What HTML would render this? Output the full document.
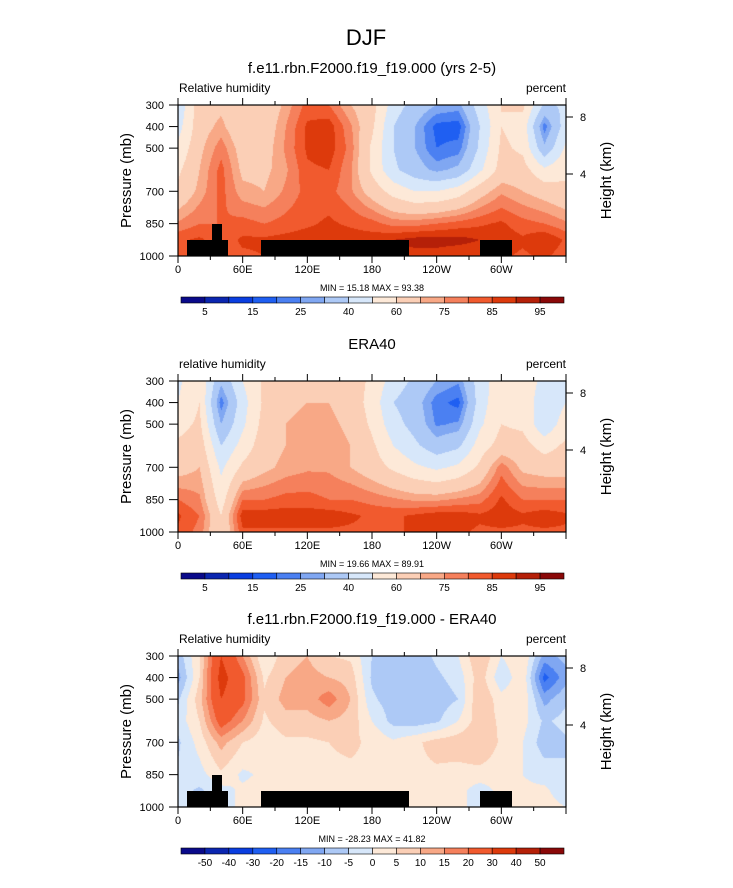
<!DOCTYPE html>
<html><head><meta charset="utf-8">
<style>
html,body{margin:0;padding:0;background:#fff;}
#root{position:relative;width:733px;height:888px;overflow:hidden;font-family:"Liberation Sans",sans-serif;}
canvas{position:absolute;}
svg{position:absolute;left:0;top:0;}
</style></head>
<body>
<div id="root">
<canvas id="c0" width="388" height="151" style="left:178px;top:105px"></canvas>
<canvas id="c1" width="388" height="151" style="left:178px;top:381px"></canvas>
<canvas id="c2" width="388" height="151" style="left:178px;top:656px"></canvas>
<svg id="ov" width="733" height="888"></svg>
</div>
<script>
const lons=[0,20,40,60,80,100,120,140,160,180,200,220,240,260,280,300,320,340,360];
const pLevels=[300,400,500,600,700,850,925,1000];
const modelRH=[
[42,66,68,62,62,72,82,80,70,64,45,36,30,28,45,60,62,38,42],
[46,66,72,62,64,75,86,88,76,62,40,30,18,17,40,60,56,22,46],
[52,68,78,66,66,76,86,88,78,58,40,30,20,22,42,62,58,32,52],
[58,70,82,68,68,74,84,85,76,58,42,34,28,32,48,64,64,52,58],
[62,72,82,72,70,76,82,82,76,66,56,50,50,55,66,74,70,66,62],
[76,80,80,82,80,82,84,86,84,82,78,78,80,82,84,86,82,80,76],
[84,86,82,86,86,87,88,88,88,88,90,92,92,92,90,88,86,90,84],
[82,84,82,84,85,86,86,86,86,86,88,88,88,86,86,86,84,86,82]];
const eraRH=[
[48,58,32,50,62,68,68,68,65,58,45,38,30,26,45,56,60,45,48],
[50,60,22,46,62,68,70,70,66,56,40,34,22,18,45,58,60,40,50],
[56,62,30,48,64,70,72,72,68,58,44,36,24,26,48,60,58,42,56],
[62,66,40,54,66,70,74,74,70,62,50,42,34,38,55,64,64,56,62],
[66,70,48,62,68,72,74,74,70,65,58,52,48,52,62,78,68,66,66],
[80,76,55,80,80,82,82,80,80,78,76,74,74,76,78,86,80,80,80],
[86,80,60,88,88,88,88,88,86,84,84,86,88,88,86,88,86,88,86],
[84,78,60,84,84,84,84,84,84,84,84,86,86,86,84,84,84,84,84]];
const diffRH=[
[-8,5,30,15,0,8,10,5,4,-5,-8,-8,-4,0,10,0,5,-12,-8],
[-12,5,34,22,4,10,12,10,8,-6,-8,-8,-6,-3,8,-4,4,-22,-12],
[-6,8,30,22,6,12,12,18,10,-4,-8,-8,-8,-5,10,2,4,-12,-6],
[-3,5,24,15,4,8,8,10,8,0,-7,-8,-6,0,8,4,2,-6,-3],
[-6,2,12,5,2,4,4,5,6,4,1,4,7,8,10,4,0,-8,-6],
[-4,-2,4,-1,1,2,3,4,4,4,4,4,4,3,3,2,0,-2,-4],
[-3,-6,-2,1,2,3,3,3,3,3,3,3,2,2,-3,2,1,1,-3],
[0,0,0,0,2,2,3,3,2,2,2,0,0,0,0,0,2,2,0]];
const rhLevels=[5,10,15,20,25,30,40,50,60,70,75,80,85,90,95];
const rhLabels=["5","","15","","25","","40","","60","","75","","85","","95"];
const diffLevels=[-50,-40,-30,-20,-15,-10,-5,0,5,10,15,20,30,40,50];
const diffLabels=["-50","-40","-30","-20","-15","-10","-5","0","5","10","15","20","30","40","50"];
const xTickLabels=["0","60E","120E","180","120W","60W"];
const xTickLons=[0,60,120,180,240,300];
const pTicks=[300,400,500,700,850,1000];
const colors=["#0a0a8a","#0b26b0","#0a3ee0","#1f5ff2","#4b80f2","#80a7f2","#adc9f6","#d7e7fa","#fde9d8","#fbcfb6","#f8a886","#f5805c","#f15a2e","#dd3a0c","#b52008","#8a0808"];

const W=388,H=151;
function xOf(lon){return lon*W/360;}
function yOf(p){return (p-300)/700*H;}
function interp(grid,lon,p){
  let i=Math.min(lons.length-2,Math.floor(lon/20));let fx=(lon-lons[i])/(lons[i+1]-lons[i]);
  let j=0;while(j<pLevels.length-2&&p>pLevels[j+1])j++;
  let fy=(p-pLevels[j])/(pLevels[j+1]-pLevels[j]);
  const a=grid[j][i],b=grid[j][i+1],c=grid[j+1][i],d=grid[j+1][i+1];
  return (a*(1-fx)+b*fx)*(1-fy)+(c*(1-fx)+d*fx)*fy;
}
function hex(h){return [parseInt(h.substr(1,2),16),parseInt(h.substr(3,2),16),parseInt(h.substr(5,2),16)];}
const rgb=colors.map(hex);
function draw(id,grid,levels){
  const ctx=document.getElementById(id).getContext('2d');
  const img=ctx.createImageData(W,H);
  for(let y=0;y<H;y++){const p=300+(y+0.5)/H*700;
    for(let x=0;x<W;x++){const lon=(x+0.5)/W*360;
      const v=interp(grid,lon,p);let k=0;while(k<levels.length&&v>=levels[k])k++;
      const c=rgb[k];const o=(y*W+x)*4;img.data[o]=c[0];img.data[o+1]=c[1];img.data[o+2]=c[2];img.data[o+3]=255;}}
  ctx.putImageData(img,0,0);
}
draw('c0',modelRH,rhLevels);draw('c1',eraRH,rhLevels);draw('c2',diffRH,diffLevels);

const NS="http://www.w3.org/2000/svg";const ov=document.getElementById('ov');
function el(tag,attrs,text){const e=document.createElementNS(NS,tag);for(const k in attrs)e.setAttribute(k,attrs[k]);if(text!==undefined)e.textContent=text;ov.appendChild(e);return e;}
function txt(x,y,s,size,anchor,name){const t=el('text',{x:x,y:y,'font-size':size,'text-anchor':anchor||'middle','font-family':'Liberation Sans, sans-serif',fill:'#000'},s);

return t;}

txt(366,45,"DJF",22,'middle','figure-title');
const panels=[
 {top:105,sub:"f.e11.rbn.F2000.f19_f19.000 (yrs 2-5)",left:"Relative humidity",topo:true,mm:"MIN =  15.18  MAX =  93.38",levels:rhLabels},
 {top:381,sub:"ERA40",left:"relative humidity",topo:false,mm:"MIN =  19.66  MAX =  89.91",levels:rhLabels},
 {top:656,sub:"f.e11.rbn.F2000.f19_f19.000 - ERA40",left:"Relative humidity",topo:true,mm:"MIN = -28.23  MAX =  41.82",levels:diffLabels}];
const L=178,R=566;
panels.forEach((pn,pi)=>{
  const T=pn.top,B=T+H;
  txt(372,T-32,pn.sub,15,'middle','panel-subtitle');
  txt(179,T-13,pn.left,12,'start','variable-label');
  txt(566,T-13,"percent",12,'end','units-label');
  if(pn.topo){
    [[187,240,41,16],[212,224,10,16],[261,240,148,16],[480,240,32,16]].forEach(r=>{
      const rc=el('rect',{x:r[0],y:T+(r[1]-105),width:r[2],height:r[3],fill:'#000'});
      
      
    });
  }
  const fr=el('rect',{x:L,y:T,width:W,height:H,fill:'none',stroke:'#000','stroke-width':1.2});
  
  
  for(let lon=0;lon<=360;lon+=30){const x=L+xOf(lon);const len=(lon%60===0)?7:4;
    el('line',{x1:x,y1:T,x2:x,y2:T-len,stroke:'#000'});el('line',{x1:x,y1:B,x2:x,y2:B+len,stroke:'#000'});}
  xTickLons.forEach((lon,i)=>txt(L+xOf(lon),B+17,xTickLabels[i],11,'middle','x-tick-label'));
  pTicks.forEach(p=>{const y=T+yOf(p);el('line',{x1:L,y1:y,x2:L-9,y2:y,stroke:'#000'});txt(164,y+4,String(p),11,'end','y-tick-label');});
  [[12,"8"],[69,"4"]].forEach(h=>{el('line',{x1:R,y1:T+h[0],x2:R+7,y2:T+h[0],stroke:'#000'});txt(580,T+h[0]+4,h[1],11,'start','height-tick-label');});
  const yt=txt(0,0,"Pressure (mb)",15,'middle','y-axis-title');yt.setAttribute('transform',`translate(131,${T+H/2}) rotate(-90)`);
  const ht=txt(0,0,"Height (km)",15,'middle','right-axis-title');ht.setAttribute('transform',`translate(611,${T+H/2}) rotate(-90)`);
  txt(372,B+35,pn.mm,9,'middle','min-max-label');
  const cbT=B+41,bw=383/16;
  colors.forEach((c,k)=>{const r=el('rect',{x:181+k*bw,y:cbT,width:bw,height:6,fill:c,stroke:'#000','stroke-width':0.6});
    
    });
  pn.levels.forEach((s,k)=>{if(s)txt(181+(k+1)*bw,cbT+18,s,10,'middle','colorbar-label');});
});
</script>
</body></html>
